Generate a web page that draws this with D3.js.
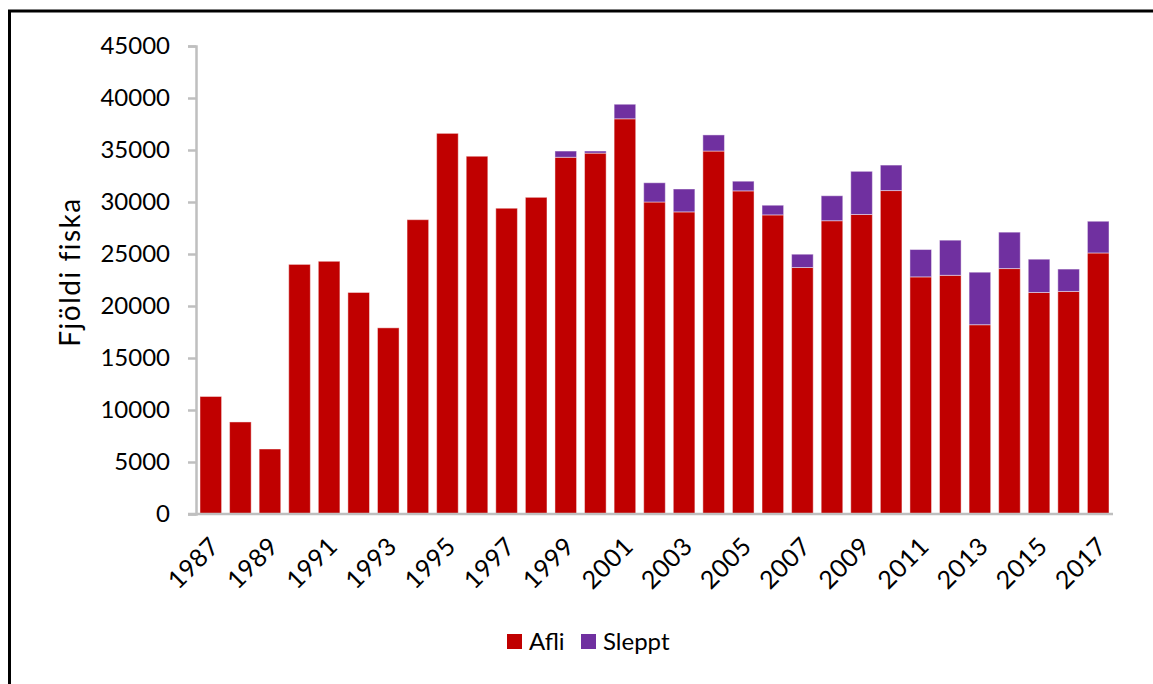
<!DOCTYPE html>
<html>
<head>
<meta charset="utf-8">
<script src="https://cdn.jsdelivr.net/npm/d3@7"></script>
<style>
  body { margin: 0; background: #fff; }
  text { font-family: Lato, "Open Sans", sans-serif; }
</style>
</head>
<body>
<div class="chart"></div>
<script>
// years on the x axis
const years = d3.range(1987, 2018).map(String);

// landed fish (Afli)
const afli = [11300, 8850, 6250, 24000, 24300, 21300, 17900, 28300, 36600, 34400,
  29400, 30450, 34300, 34700, 38000, 30000, 29050, 34900, 31070, 28760,
  23700, 28200, 28800, 31100, 22800, 22950, 18200, 23600, 21300, 21400, 25100];

// released fish (Sleppt)
const sleppt = [0, 0, 0, 0, 0, 0, 0, 0, 0, 0,
  0, 0, 600, 200, 1400, 1850, 2200, 1550, 930, 930,
  1280, 2400, 4150, 2450, 2630, 3380, 5050, 3500, 3200, 2150, 3050];

const seriesNames = ['Afli', 'Sleppt'];
const seriesColors = ['#C00000', '#7030A0'];
const yTicks = [0, 5000, 10000, 15000, 20000, 25000, 30000, 35000, 40000, 45000];

const width = 1153;
const height = 684;
const plotLeft = 196, plotRight = 1113, plotTop = 46, plotBottom = 514;

const svg = d3.select('.chart')
    .append('svg')
    .attr('width', width)
    .attr('height', height);

// frame (only top and left edges show in the picture)
svg.append('rect')
    .attr('x', 9.5)
    .attr('y', 11)
    .attr('width', width + 20)
    .attr('height', height + 20)
    .attr('fill', 'none')
    .attr('stroke', '#000')
    .attr('stroke-width', 3);

const x = d3.scaleBand()
    .domain(years)
    .range([plotLeft, plotRight])
    .paddingInner(0.27)
    .paddingOuter(0.135);

const y = d3.scaleLinear()
    .domain([0, 45000])
    .range([plotBottom, plotTop]);

const table = years.map((yr, i) => ({ year: yr, Afli: afli[i], Sleppt: sleppt[i] }));
const stacked = d3.stack().keys(seriesNames)(table);

// bars
svg.selectAll('g.series')
    .data(stacked)
    .enter()
    .append('g')
    .attr('class', 'series')
    .attr('fill', (d, i) => seriesColors[i])
    .selectAll('rect')
    .data(d => d.filter(p => p[1] - p[0] > 0))
    .enter()
    .append('rect')
    .attr('x', d => x(d.data.year))
    .attr('width', x.bandwidth())
    .attr('y', d => y(d[1]))
    .attr('height', d => y(d[0]) - y(d[1]))
    .attr('stroke', '#fff')
    .attr('stroke-opacity', 0.45)
    .attr('stroke-width', 1);

// y axis
const yAxis = svg.append('g')
    .attr('transform', `translate(${plotLeft},0)`)
    .call(d3.axisLeft(y).tickValues(yTicks).tickSize(8).tickPadding(18).tickFormat(d3.format('d')));
yAxis.select('.domain').attr('stroke', '#BFBFBF').attr('stroke-width', 2.5);
yAxis.selectAll('.tick line').attr('stroke', '#BFBFBF').attr('stroke-width', 2.5);
yAxis.selectAll('.tick text')
    .attr('fill', '#000')
    .style('font-size', '24px');

// x axis
const xAxis = svg.append('g')
    .attr('transform', `translate(0,${plotBottom})`)
    .call(d3.axisBottom(x).tickValues(years.filter((d, i) => i % 2 === 0)).tickSize(0).tickSizeOuter(0));
xAxis.select('.domain').remove();
xAxis.append('line')
    .attr('x1', plotLeft - 8)
    .attr('x2', plotRight)
    .attr('stroke', '#BFBFBF')
    .attr('stroke-width', 2.5);
xAxis.selectAll('.tick text')
    .attr('fill', '#000')
    .style('font-size', '25px')
    .style('letter-spacing', '0.5px')
    .attr('text-anchor', 'end')
    .attr('dy', 0)
    .attr('y', 0)
    .attr('transform', 'translate(10,34) rotate(-45)');

// y axis title
svg.append('text')
    .text('Fjöldi fiska')
    .attr('transform', `translate(80,${(plotTop + plotBottom) / 2 - 8}) rotate(-90)`)
    .attr('text-anchor', 'middle')
    .style('font-size', '28px')
    .style('letter-spacing', '1.5px')
    .attr('fill', '#000');

// legend
const legend = svg.append('g')
    .attr('transform', 'translate(507,634)');
const item = legend.selectAll('g')
    .data(seriesNames)
    .enter()
    .append('g')
    .attr('transform', (d, i) => `translate(${i * 74},0)`);
item.append('rect')
    .attr('width', 15)
    .attr('height', 15)
    .attr('fill', (d, i) => seriesColors[i]);
item.append('text')
    .text(d => d)
    .attr('x', 22)
    .attr('y', 16)
    .style('font-size', '24px')
    .attr('fill', '#000');
</script>
</body>
</html>
